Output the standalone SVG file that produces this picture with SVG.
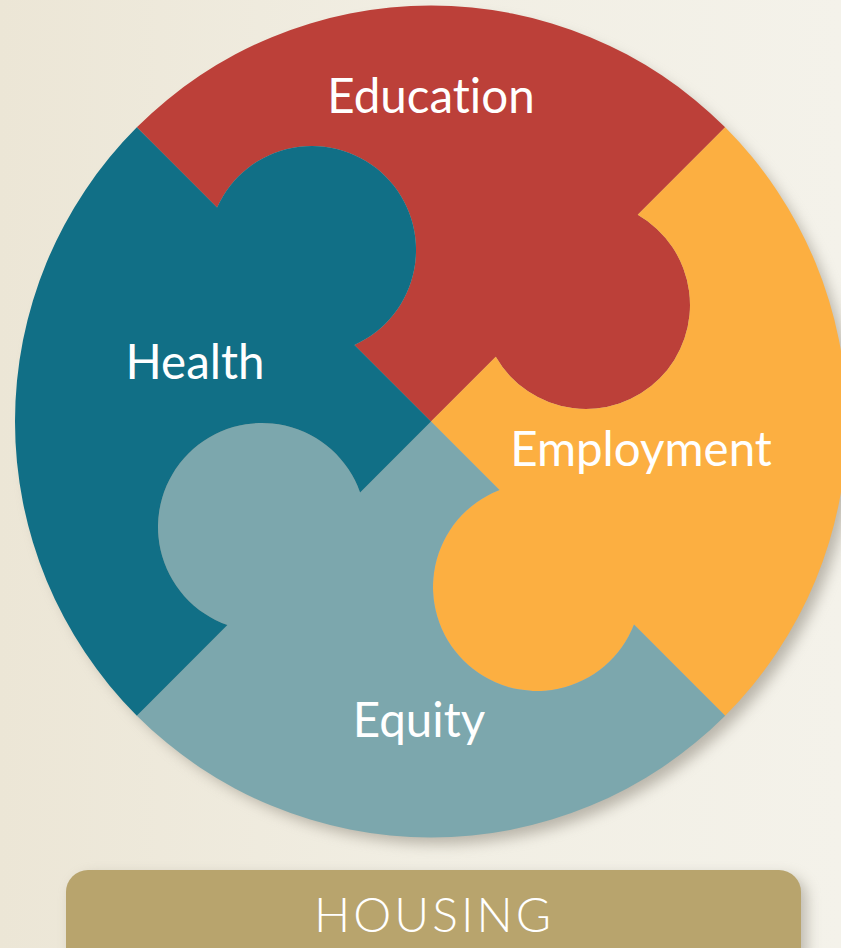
<svg xmlns="http://www.w3.org/2000/svg" width="841" height="948" viewBox="0 0 841 948">
<defs>
<linearGradient id="bg" x1="0" y1="0" x2="1" y2="0">
<stop offset="0" stop-color="#ece6d6"/>
<stop offset="0.5" stop-color="#f1eee3"/>
<stop offset="1" stop-color="#f4f2ea"/>
</linearGradient>
<filter id="shadow" x="-20%" y="-20%" width="140%" height="140%">
<feGaussianBlur stdDeviation="7"/>
</filter>
<style>
.lbl{font-family:Lato,"Liberation Sans",sans-serif;font-size:47.5px;font-weight:400;fill:#ffffff;text-anchor:middle;font-variant-ligatures:none}
.house{font-family:Lato,"Liberation Sans",sans-serif;font-size:48px;font-weight:300;fill:#ffffff;text-anchor:middle;letter-spacing:3px}
</style>
</defs>
<rect x="0" y="0" width="841" height="948" fill="url(#bg)"/>
<circle cx="439" cy="430" r="414" fill="#8a8478" opacity="0.55" filter="url(#shadow)"/>
<rect x="72" y="876" width="735" height="100" rx="22" fill="#8a8478" opacity="0.5" filter="url(#shadow)"/>
<g id="education">
<path d="M431,421.5 L495.78,356.72 A104,104 0 1 0 637.73,214.77 L725.16,127.34 A416,416 0 0 0 136.84,127.34 L217.06,207.56 A104,104 0 1 1 354.44,344.94 Z" fill="#bc4039"/>
<text class="lbl" x="431" y="113">Education</text>
</g>
<g id="employment">
<path d="M431,421.5 L495.78,356.72 A104,104 0 1 0 637.73,214.77 L725.16,127.34 A416,416 0 0 1 725.16,715.66 L634,624.5 A104,104 0 1 1 499.5,490 Z" fill="#fcaf41"/>
<text class="lbl" x="641" y="466">Employment</text>
</g>
<g id="equity">
<path d="M431,421.5 L499.5,490 A104,104 0 1 0 634,624.5 L725.16,715.66 A416,416 0 0 1 136.84,715.66 L227.42,625.08 A104,104 0 1 1 360.08,492.42 Z" fill="#7ca7ad"/>
<text class="lbl" x="419" y="737">Equity</text>
</g>
<g id="health">
<path d="M431,421.5 L360.08,492.42 A104,104 0 1 0 227.42,625.08 L136.84,715.66 A416,416 0 0 1 136.84,127.34 L217.06,207.56 A104,104 0 1 1 354.44,344.94 Z" fill="#116f86"/>
<text class="lbl" x="195" y="379">Health</text>
</g>
<g id="housing">
<rect x="66" y="870" width="735" height="100" rx="22" fill="#b8a46d"/>
<text class="house" x="434" y="932">HOUSING</text>
</g>
<g id="connectors"/>
</svg>
